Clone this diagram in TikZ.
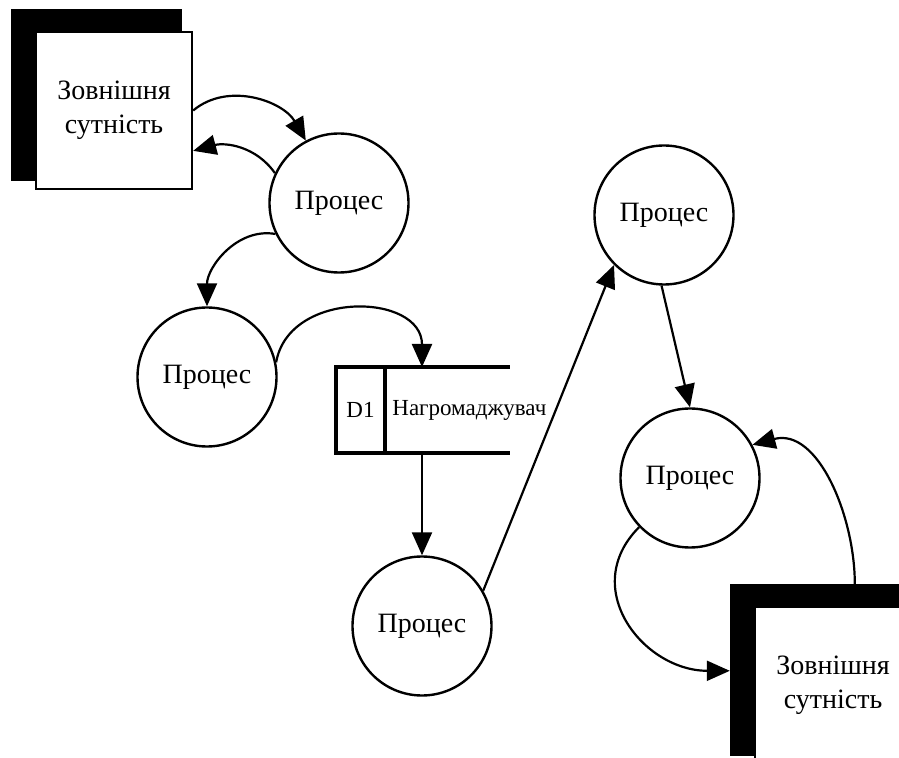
\documentclass[tikz,border=0pt]{standalone}
\usepackage{fontspec}
\setmainfont{Liberation Serif}
\usetikzlibrary{arrows.meta, positioning, calc, backgrounds}
\tikzset{
  process/.style={circle, draw, fill=white, line width=1.2pt, minimum size=69.5pt, inner sep=0pt, font=\fontsize{14}{17}\selectfont},
  entity/.style={rectangle, draw, fill=white, line width=1.2pt, minimum width=78pt, minimum height=78.5pt, align=center, font=\fontsize{14}{17}\selectfont},
  storeid/.style={rectangle, draw, line width=1.6pt, outer sep=0pt, minimum width=24.5pt, minimum height=43pt, inner sep=0pt, font=\fontsize{11.5}{14}\selectfont},
  storelabel/.style={inner sep=0pt, font=\fontsize{11.5}{14}\selectfont},
  storeline/.style={line width=1.6pt},
  flow/.style={-{Triangle[length=11.5pt, width=10pt]}, line width=1.1pt},
}

\begin{document}
\begin{tikzpicture}[x=0.5pt, y=-0.5pt]
  \useasboundingbox (0,0) rectangle (899,758);
  \clip (0,0) rectangle (899,758);
  % External entities
  \node[entity] (ent1) at (114,110.5) {Зовнішня\\сутність};
  \node[entity] (ent2) at (833,685.5) {Зовнішня\\сутність};
  \coordinate (sh1) at ([shift={(-24,-22)}]ent1.north west);
  \coordinate (sh2) at ([shift={(-24,-22)}]ent2.north west);
  \begin{scope}[on background layer]
    \fill (sh1) rectangle ([shift={(-11,-9)}]ent1.south east);
    \fill (sh2) rectangle ([shift={(-11,-9)}]ent2.south east);
  \end{scope}
  % Processes
  \node[process] (p1) at (339,203) {Процес};
  \node[process] (p2) at (207,377) {Процес};
  \node[process] (p3) at (422,626) {Процес};
  \node[process] (p4) at (664,215) {Процес};
  \node[process] (p5) at (690,478) {Процес};
  % Data store
  \node[storeid] (d1) at (360.5,410) {D1};
  \node[storelabel, right=3.5pt of d1] (store) {Нагромаджувач};
  \draw[storeline] (d1.north east) -- ++(125,0);
  \draw[storeline] (d1.south east) -- ++(125,0);
  \coordinate (stin) at ($(d1.north east)+(37,0)$);
  \coordinate (stout) at ($(d1.south east)+(37,0)$);
  \coordinate (e2in) at ($(sh2)+(0,87)$);
  \coordinate (e2out) at ($(sh2)+(125,0)$);

  % Flows
  \draw[flow] (ent1.east) to[out=40, in=120] (p1.118);
  \draw[flow] (p1.155) to[out=125, in=15] (ent1.-27);
  \draw[flow] (p1.206) to[out=170, in=90] (p2.north);
  \draw[flow] (p2.12) to[out=80, in=90, looseness=1.3] (stin);
  \draw[flow] (stout) -- (p3.north);
  \draw[flow] (p3.30) -- (p4.225);
  \draw[flow] (p4.268) -- (p5.north);
  \draw[flow] (p5.224) to[out=225, in=180, looseness=1.3] (e2in);
  \draw[flow] (e2out) to[out=90, in=15] (p5.28);
\end{tikzpicture}
\end{document}
